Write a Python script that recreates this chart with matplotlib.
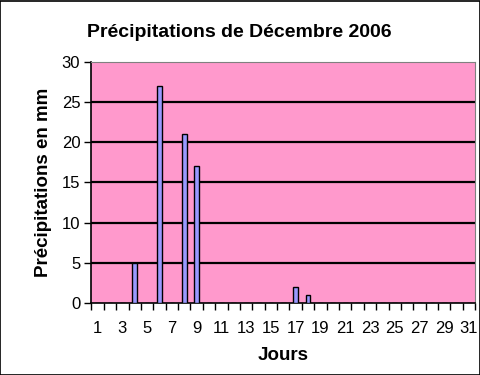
import matplotlib
matplotlib.use('Agg')
import matplotlib.pyplot as plt
from matplotlib.patches import Rectangle
import numpy as np

plt.rcParams['font.family'] = ['Liberation Sans', 'DejaVu Sans']

# données : précipitations journalières (mm), décembre 2006
jours = list(range(1, 32))
precip = [0, 0, 0, 5, 0, 27, 0, 21, 17, 0, 0, 0, 0, 0, 0, 0,
          2, 1, 0, 0, 0, 0, 0, 0, 0, 0, 0, 0, 0, 0, 0]
yticks = [0, 5, 10, 15, 20, 25, 30]

fig = plt.figure(figsize=(4.81, 3.75), dpi=100)
fig.patch.set_facecolor('white')
# cadre noir autour du graphique
fig.patches.append(Rectangle((0.001, 0.001), 0.997, 0.996, transform=fig.transFigure,
                             fill=False, edgecolor='black', linewidth=1.2))

ax = fig.add_axes([0.190, 0.192, 0.798, 0.643])
ax.set_facecolor('#FF99CC')

ax.bar(jours, precip, width=0.38, color='#9999FF', edgecolor='black',
       linewidth=1.0, zorder=3)

ax.set_xlim(0.5, 31.5)
ax.set_ylim(0, 30)

# lignes de quadrillage horizontales
for y in yticks[1:-1]:
    ax.axhline(y, color='black', linewidth=1.6, zorder=2)

ax.set_yticks(yticks)
ax.set_yticklabels([str(v) for v in yticks], fontsize=12)
ax.tick_params(axis='y', direction='out', length=5, width=1, pad=3)

# étiquettes aux jours impairs, graduations entre les catégories
ax.set_xticks(jours[::2])
ax.set_xticklabels([str(j) for j in jours[::2]], fontsize=12)
ax.set_xticks(np.arange(0.5, 32, 1), minor=True)
ax.tick_params(axis='x', which='major', length=0, pad=13)
ax.tick_params(axis='x', which='minor', direction='out', length=5, width=1)

ax.spines['left'].set_color('black')
ax.spines['bottom'].set_color('black')
ax.spines['left'].set_linewidth(1.2)
ax.spines['bottom'].set_linewidth(1.2)
ax.spines['top'].set_color('#808080')
ax.spines['right'].set_color('#808080')

ax.set_ylabel('Précipitations en mm', fontsize=13.5, fontweight='bold', labelpad=7)
ax.set_xlabel('Jours', fontsize=13.5, fontweight='bold', labelpad=8)
fig.suptitle('Précipitations de Décembre 2006', fontsize=14, fontweight='bold',
             x=0.497, y=0.935)

fig.savefig('out.png', dpi=100)
